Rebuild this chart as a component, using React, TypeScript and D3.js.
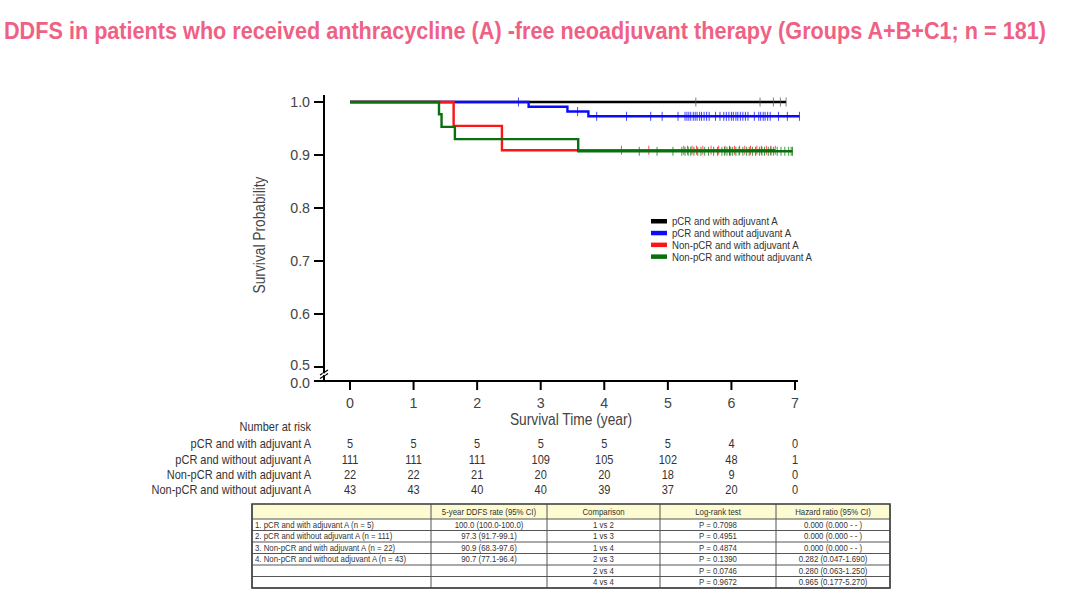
import React, { useLayoutEffect, useRef, useState } from "react";
import * as d3 from "d3";

const W = 1080;
const H = 603;

const titleText = "DDFS in patients who received anthracycline (A) -free neoadjuvant therapy (Groups A+B+C1; n = 181)";
const groups = [
  "pCR and with adjuvant A",
  "pCR and without adjuvant A",
  "Non-pCR and with adjuvant A",
  "Non-pCR and without adjuvant A",
];
const colors = ["#000000", "#0a0aff", "#ff1414", "#08700c"];

// step curves
const stepTimes = [
  [0],
  [0, 2.81, 3.42, 3.75],
  [0, 1.63, 2.39],
  [0, 1.40, 1.44, 1.65, 3.59],
];
const stepSurv = [
  [1.0],
  [1.0, 0.991, 0.982, 0.973],
  [1.0, 0.955, 0.909],
  [1.0, 0.977, 0.953, 0.930, 0.907],
];
const endTimes = [6.86, 7.07, 6.69, 6.96];

const censorBlack = [5.44, 6.45, 6.66, 6.77, 6.86];
const censorBlue = [
  2.65, 3.58, 3.88, 4.35, 4.73, 4.91, 5.16,
  5.27, 5.30, 5.33, 5.36, 5.40, 5.43, 5.46, 5.50, 5.53, 5.57, 5.61, 5.65,
  5.75, 5.82,
  5.88, 5.92, 5.96, 6.00, 6.03, 6.07, 6.10, 6.14, 6.18, 6.22, 6.26,
  6.36, 6.43, 6.46, 6.50, 6.53, 6.57, 6.61, 6.74, 6.88, 7.07,
];
const censorRed = [
  4.27, 4.70, 5.25, 5.31, 5.38, 5.45, 5.55, 5.68, 5.80, 5.90, 5.97, 6.05,
  6.13, 6.21, 6.30, 6.40, 6.47, 6.55, 6.62, 6.69,
];
const censorGreen = [
  4.55, 4.83, 5.08, 5.22, 5.27, 5.32, 5.36, 5.41, 5.47, 5.52, 5.58, 5.64,
  5.72, 5.78, 5.85, 5.89, 5.93, 5.97, 5.99, 6.02, 6.07, 6.12, 6.18, 6.24,
  6.28, 6.33, 6.38, 6.44, 6.48, 6.52, 6.58, 6.62, 6.66, 6.72, 6.78, 6.84,
  6.90, 6.94, 6.96,
];
const censors = [censorBlack, censorBlue, censorRed, censorGreen];

const xTicks = [0, 1, 2, 3, 4, 5, 6, 7];
const yTicks = [0.0, 0.5, 0.6, 0.7, 0.8, 0.9, 1.0];

const atRisk = [
  [5, 5, 5, 5, 5, 5, 4, 0],
  [111, 111, 111, 109, 105, 102, 48, 1],
  [22, 22, 21, 20, 20, 18, 9, 0],
  [43, 43, 40, 40, 39, 37, 20, 0],
];

const tableHeaders = ["", "5-year DDFS rate (95% CI)", "Comparison", "Log-rank test", "Hazard ratio (95% CI)"];
const tableGroups = [
  "1. pCR and with adjuvant A (n = 5)",
  "2. pCR and without adjuvant A (n = 111)",
  "3. Non-pCR and with adjuvant A (n = 22)",
  "4. Non-pCR and without adjuvant A (n = 43)",
  "",
  "",
];
const tableRates = ["100.0 (100.0-100.0)", "97.3 (91.7-99.1)", "90.9 (68.3-97.6)", "90.7 (77.1-96.4)", "", ""];
const tableComparisons = ["1 vs 2", "1 vs 3", "1 vs 4", "2 vs 3", "2 vs 4", "4 vs 4"];
const tablePvals = ["P = 0.7098", "P = 0.4951", "P = 0.4874", "P = 0.1390", "P = 0.0746", "P = 0.9672"];
const tableHRs = [
  "0.000 (0.000 - - )",
  "0.000 (0.000 - - )",
  "0.000 (0.000 - - )",
  "0.282 (0.047-1.690)",
  "0.280 (0.063-1.250)",
  "0.965 (0.177-5.270)",
];

const SANS = "'Liberation Sans', Arial, sans-serif";

type CTProps = {
  x: number;
  y: number;
  sx?: number;
  size: number;
  anchor?: "start" | "middle" | "end";
  fill?: string;
  rotate?: number;
  children: React.ReactNode;
};

function CText({ x, y, sx = 0.86, size, anchor = "start", fill = "#333", rotate = 0, children }: CTProps) {
  return (
    <text
      transform={`translate(${x},${y}) rotate(${rotate}) scale(${sx},1)`}
      dy="0.35em"
      textAnchor={anchor}
      fontFamily={SANS}
      fontSize={size}
      fill={fill}
    >
      {children}
    </text>
  );
}

function Title() {
  const ref = useRef<SVGTextElement>(null);
  const [sx, setSx] = useState(0.9);
  const target = 1042;
  useLayoutEffect(() => {
    if (ref.current) {
      const w = ref.current.getComputedTextLength();
      if (w > 0) setSx(target / w);
    }
  }, []);
  return (
    <text
      ref={ref}
      transform={`translate(4,39) scale(${sx},1)`}
      fontFamily={SANS}
      fontWeight="bold"
      fontSize={23.5}
      fill="#ef6184"
    >
      {titleText}
    </text>
  );
}

export default function App() {
  const x = d3.scaleLinear().domain([0, 7]).range([350, 795]);
  const y = d3.scaleLinear().domain([0, 0.5, 1.0]).range([381, 367, 102]);
  const axisX = 324;
  const axisY = 381;

  const survAt = (g: number, t: number) => {
    const ts = stepTimes[g];
    let s = stepSurv[g][0];
    for (let i = 0; i < ts.length; i++) if (ts[i] <= t) s = stepSurv[g][i];
    return s;
  };

  const line = d3
    .line<[number, number]>()
    .x((d) => x(d[0]))
    .y((d) => y(d[1]))
    .curve(d3.curveStepAfter);

  const curvePts = (g: number): [number, number][] => {
    const pts: [number, number][] = stepTimes[g].map((t, i) => [t, stepSurv[g][i]] as [number, number]);
    pts.push([endTimes[g], stepSurv[g][stepSurv[g].length - 1]]);
    return pts;
  };

  // table geometry
  const colEdges = [252, 431, 547, 660, 776, 890];
  const tTop = 504;
  const headH = 15;
  const rowH = 11.5;
  const nRows = 6;
  const tBottom = tTop + headH + rowH * nRows;
  const cols = [tableGroups, tableRates, tableComparisons, tablePvals, tableHRs];

  return (
    <svg
      width={W}
      height={H}
      viewBox={`0 0 ${W} ${H}`}
      style={{ position: "absolute", left: 0, top: 0, background: "#ffffff" }}
    >
      <rect x={0} y={0} width={W} height={H} fill="#ffffff" />
      <Title />

      {/* axes */}
      <line x1={axisX} y1={95} x2={axisX} y2={axisY} stroke="#000" strokeWidth={2} />
      <line x1={axisX} y1={axisY} x2={798} y2={axisY} stroke="#000" strokeWidth={2} />
      {/* axis break */}
      <g stroke="#000" strokeWidth={1.3}>
        <line x1={axisX - 4} y1={375} x2={axisX + 4} y2={370} />
        <line x1={axisX - 4} y1={378.5} x2={axisX + 4} y2={373.5} />
      </g>
      <rect x={axisX - 1.5} y={373.3} width={3} height={1.8} fill="#fff" />

      {yTicks.map((v) => (
        <g key={"y" + v}>
          <line x1={axisX - 10} x2={axisX} y1={y(v)} y2={y(v)} stroke="#000" strokeWidth={2} />
          <CText
            x={310}
            y={y(v) + (v === 0.5 ? -2 : v === 0 ? 1.5 : 0)}
            sx={0.95}
            size={15}
            anchor="end"
            fill="#444"
          >
            {v.toFixed(1)}
          </CText>
        </g>
      ))}
      {xTicks.map((v) => (
        <g key={"x" + v}>
          <line x1={x(v)} x2={x(v)} y1={axisY} y2={axisY + 9} stroke="#000" strokeWidth={2} />
          <CText x={x(v)} y={403} sx={0.95} size={15} anchor="middle" fill="#444">
            {v}
          </CText>
        </g>
      ))}
      <CText x={571} y={419} sx={0.86} size={16} anchor="middle" fill="#444">
        Survival Time (year)
      </CText>
      <CText x={259} y={235} sx={0.86} size={16} anchor="middle" fill="#444" rotate={-90}>
        Survival Probability
      </CText>

      {/* curves */}
      {[0, 1, 2, 3].map((g) => (
        <g key={"c" + g}>
          <path d={line(curvePts(g)) || ""} fill="none" stroke={colors[g]} strokeWidth={2.4} />
          {censors[g].map((t, i) => (
            <line
              key={i}
              x1={x(t)}
              x2={x(t)}
              y1={y(survAt(g, t)) - 4.5}
              y2={y(survAt(g, t)) + 4.5}
              stroke={g === 0 ? "#555" : colors[g]}
              strokeWidth={1}
              opacity={0.75}
            />
          ))}
        </g>
      ))}

      {/* legend */}
      {groups.map((gname, i) => (
        <g key={"l" + i}>
          <rect x={651} y={219 + i * 11.8} width={16} height={4.5} fill={colors[i]} />
          <CText x={672} y={221.2 + i * 11.8} sx={0.84} size={11.5}>
            {gname}
          </CText>
        </g>
      ))}

      {/* number at risk */}
      <CText x={311} y={427} sx={0.88} size={12.5} anchor="end">
        Number at risk
      </CText>
      {groups.map((gname, i) => (
        <g key={"r" + i}>
          <CText x={311} y={444 + i * 15.3} sx={0.88} size={12.5} anchor="end">
            {gname}
          </CText>
          {atRisk[i].map((n, j) => (
            <CText key={j} x={x(xTicks[j])} y={444 + i * 15.3} sx={0.88} size={12.5} anchor="middle">
              {n}
            </CText>
          ))}
        </g>
      ))}

      {/* table */}
      <rect x={colEdges[0]} y={tTop} width={colEdges[5] - colEdges[0]} height={headH} fill="#fdfbd2" />
      {d3.range(nRows + 1).map((r) => (
        <line
          key={"h" + r}
          x1={colEdges[0]}
          x2={colEdges[5]}
          y1={tTop + headH + r * rowH}
          y2={tTop + headH + r * rowH}
          stroke="#555"
          strokeWidth={1}
        />
      ))}
      {colEdges.map((cx, i) => (
        <line key={"v" + i} x1={cx} x2={cx} y1={tTop} y2={tBottom} stroke="#555" strokeWidth={1} />
      ))}
      <rect
        x={colEdges[0]}
        y={tTop}
        width={colEdges[5] - colEdges[0]}
        height={tBottom - tTop}
        fill="none"
        stroke="#444"
        strokeWidth={1.6}
      />
      {tableHeaders.map((h, i) => (
        <CText key={"th" + i} x={(colEdges[i] + colEdges[i + 1]) / 2} y={tTop + headH / 2} sx={0.87} size={9} anchor="middle">
          {h}
        </CText>
      ))}
      {cols.map((col, c) =>
        col.map((v, r) => (
          <CText
            key={"td" + c + "-" + r}
            x={c === 0 ? colEdges[0] + 3 : (colEdges[c] + colEdges[c + 1]) / 2}
            y={tTop + headH + r * rowH + rowH / 2}
            sx={0.87}
            size={9}
            anchor={c === 0 ? "start" : "middle"}
          >
            {v}
          </CText>
        ))
      )}
    </svg>
  );
}
